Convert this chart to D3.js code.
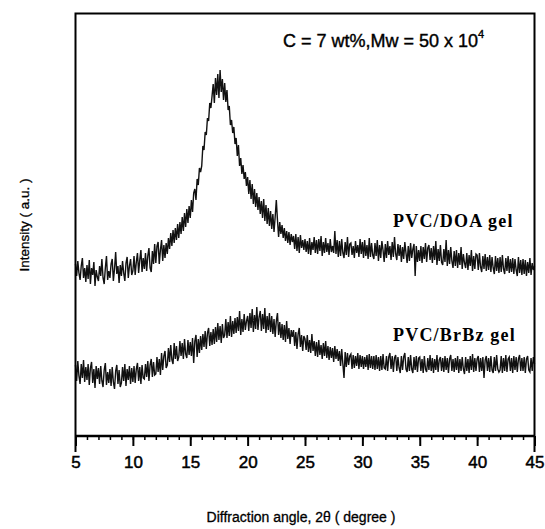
<!DOCTYPE html>
<html>
<head>
<meta charset="utf-8">
<script src="https://cdn.jsdelivr.net/npm/d3@7"></script>
<style>
body { margin: 0; background: #fff; }
</style>
</head>
<body>
<svg id="chart" width="545" height="529"></svg>
<script>
// x grid of the scans: 5 to 45 degrees, one reading every 0.1 degree
var angleStart = 5, angleStep = 0.1;
var xTicks = [5, 10, 15, 20, 25, 30, 35, 40, 45];
var minorTicks = [5,6,7,8,9,10,11,12,13,14,15,16,17,18,19,20,21,22,23,24,25,26,27,28,29,30,31,32,33,34,35,36,37,38,39,40,41,42,43,44,45];

// PVC/DOA gel intensity (a.u.)
var doaGel = [
  172,160,175,163,156,170,178,158,168,154,
  171,157,176,152,168,161,174,150,166,159,
  155,170,160,177,158,152,168,180,156,165,
  158,172,177,155,167,184,162,170,153,171,
  160,175,163,155,173,179,158,170,177,161,
  165,180,161,174,183,163,176,186,164,178,
  167,183,165,180,188,168,164,185,172,192,
  173,190,194,172,186,196,175,191,178,193,
  182,198,187,203,190,206,193,208,196,212,
  198,214,202,219,205,223,209,227,213,230,
  218,236,224,243,247,236,257,251,268,264,
  270,290,286,304,301,318,315,333,328,340,
  352,333,358,341,362,338,366,344,357,336,
  353,334,346,326,330,311,316,303,309,292,
  298,280,291,270,278,262,271,257,264,250,
  259,242,256,237,252,232,247,229,243,226,
  239,222,235,218,237,215,231,212,228,210,
  225,207,222,204,219,236,216,199,214,202,
  211,198,208,195,205,193,204,191,202,194,
  200,187,202,185,199,183,201,188,196,186,
  197,184,195,182,198,181,194,186,199,183,
  196,182,197,185,200,180,194,183,198,184,
  193,181,197,184,190,183,205,182,196,179,
  195,180,197,183,178,194,181,199,179,192,
  193,181,190,178,195,183,191,179,197,182,
  194,178,196,180,191,177,198,179,193,181,
  177,193,180,196,175,191,178,195,186,174,
  192,178,195,181,190,176,194,179,199,182,
  176,192,180,191,174,189,177,194,183,173,
  190,175,193,178,187,192,160,190,174,186,
  175,190,173,189,177,193,174,188,191,176,
  188,173,190,176,195,171,187,175,191,174,
  171,187,174,196,170,186,172,189,175,168,
  185,170,186,168,183,171,189,167,182,173,
  168,183,166,181,170,186,165,180,167,182,
  181,166,183,169,164,180,167,182,165,179,
  166,181,164,179,168,162,180,165,178,163,
  179,164,181,167,162,178,165,180,163,177,
  164,178,162,177,166,160,179,163,176,161,
  177,162,176,160,174,163,178,161,173,166,
  170
];

// PVC/BrBz gel intensity (a.u.)
var brbzGel = [
  71,55,75,60,52,72,58,76,54,69,
  56,72,51,68,74,53,67,48,70,57,
  68,52,70,55,49,66,73,51,64,53,
  67,50,69,54,47,65,71,52,66,49,
  53,69,55,72,50,67,56,70,52,68,
  54,70,53,67,73,55,69,52,71,58,
  57,72,59,75,55,71,77,59,74,61,
  62,79,64,77,61,83,66,80,85,68,
  71,88,74,91,76,72,93,77,90,75,
  79,95,80,93,77,97,82,78,96,81,
  94,80,98,73,95,101,79,97,83,100,
  86,102,89,105,87,103,108,90,104,91,
  107,92,109,94,113,96,110,93,112,98,
  101,117,98,114,100,120,99,115,102,118,
  103,119,105,125,101,117,104,122,106,115,
  120,105,123,108,127,104,121,107,129,106,
  119,125,105,122,107,128,103,120,106,123,
  104,120,102,117,99,115,123,101,114,98,
  112,96,111,94,115,97,108,92,106,99,
  106,90,104,87,102,108,89,101,85,100,
  97,86,101,84,96,83,102,85,95,80,
  94,79,96,81,91,77,93,80,95,78,
  90,76,89,78,88,74,90,77,87,75,
  85,70,87,72,58,84,69,83,71,80,
  82,67,81,68,80,70,83,67,81,69,
  80,67,79,69,81,66,82,68,80,67,
  80,66,81,67,79,65,80,66,82,68,
  67,80,65,79,83,67,80,64,78,81,
  65,79,68,63,80,66,79,83,67,64,
  79,65,81,67,63,79,66,80,64,78,
  79,65,77,63,80,67,64,78,66,81,
  65,78,63,77,66,81,64,76,79,65,
  78,64,80,66,78,63,77,81,65,77,
  64,78,66,80,63,77,65,79,67,62,
  79,65,77,63,80,66,82,64,78,65,
  77,80,64,78,65,79,58,76,80,65,
  78,64,80,66,63,79,65,81,67,64,
  66,80,63,78,65,81,64,77,79,65,
  78,63,80,66,79,64,77,81,65,78,
  65,79,63,77,80,66,64,78,65,79,
  72
];

var seriesLabels = ["PVC/DOA gel", "PVC/BrBz gel"];

function drawChart() {
    var svg = d3.select("#chart");
    var left = 75.5, right = 534.5, top = 13.5, bottom = 436;

    var x = d3.scaleLinear().domain([5, 45]).range([left, right]);
    var y = d3.scaleLinear().domain([0, 423]).range([bottom, 13]);

    var line = d3.line()
        .x(function(d, i) { return x(angleStart + i * angleStep); })
        .y(function(d) { return y(d); });

    // curves
    [doaGel, brbzGel].forEach(function(s) {
        svg.append("path")
            .datum(s)
            .attr("d", line)
            .attr("fill", "none")
            .attr("stroke", "#111")
            .attr("stroke-width", 1.4);
    });

    // frame
    svg.append("path")
        .attr("d", "M" + left + "," + (bottom + 16) + "V" + top + "H" + right + "V" + (bottom + 16))
        .attr("fill", "none")
        .attr("stroke", "#000")
        .attr("stroke-width", 2);

    // minor ticks
    var minor = svg.append("g")
        .attr("transform", "translate(0," + bottom + ")")
        .call(d3.axisBottom(x).tickValues(minorTicks).tickSize(4).tickFormat(""));
    minor.select(".domain").remove();
    minor.selectAll("line").attr("stroke-width", 1.5);

    // major ticks with labels
    var major = svg.append("g")
        .attr("transform", "translate(0," + bottom + ")")
        .call(d3.axisBottom(x).tickValues(xTicks).tickSize(10).tickPadding(10));
    major.select(".domain").remove();
    major.selectAll("line").attr("stroke-width", 2);
    major.selectAll("text")
        .attr("font-family", "'Liberation Sans', Arial, sans-serif")
        .attr("font-size", 17)
        .attr("fill", "#000")
        .attr("stroke", "#000")
        .attr("stroke-width", 0.5);

    svg.append("line")
        .attr("x1", left).attr("x2", right)
        .attr("y1", bottom).attr("y2", bottom)
        .attr("stroke", "#000").attr("stroke-width", 2.5);

    // axis titles
    svg.append("text")
        .attr("x", 301).attr("y", 522)
        .attr("text-anchor", "middle")
        .attr("font-family", "'Liberation Sans', Arial, sans-serif")
        .attr("font-size", 14)
        .attr("stroke", "#000").attr("stroke-width", 0.3)
        .text("Diffraction angle, 2\u03b8 ( degree )");

    svg.append("text")
        .attr("transform", "translate(29,225) rotate(-90)")
        .attr("text-anchor", "middle")
        .attr("font-family", "'Liberation Sans', Arial, sans-serif")
        .attr("font-size", 13.5)
        .attr("stroke", "#000").attr("stroke-width", 0.3)
        .text("Intensity ( a.u. )");

    // annotation
    var note = svg.append("text")
        .attr("x", 283).attr("y", 47)
        .attr("font-family", "'Liberation Sans', Arial, sans-serif")
        .attr("font-size", 18)
        .attr("stroke", "#000").attr("stroke-width", 0.4)
        .text("C = 7 wt%,Mw = 50 x 10");
    note.append("tspan")
        .attr("dy", -9)
        .attr("font-size", 11)
        .text("4");

    // series labels
    svg.selectAll(".slabel")
        .data(seriesLabels)
        .enter()
        .append("text")
        .attr("class", "slabel")
        .attr("x", 393)
        .attr("y", function(d, i) { return i == 0 ? 227 : 341; })
        .attr("font-family", "'Liberation Serif', 'Times New Roman', serif")
        .attr("font-size", 18)
        .attr("font-weight", "bold")
        .attr("letter-spacing", 1.2)
        .text(function(d) { return d; });
}

drawChart();
</script>
</body>
</html>
